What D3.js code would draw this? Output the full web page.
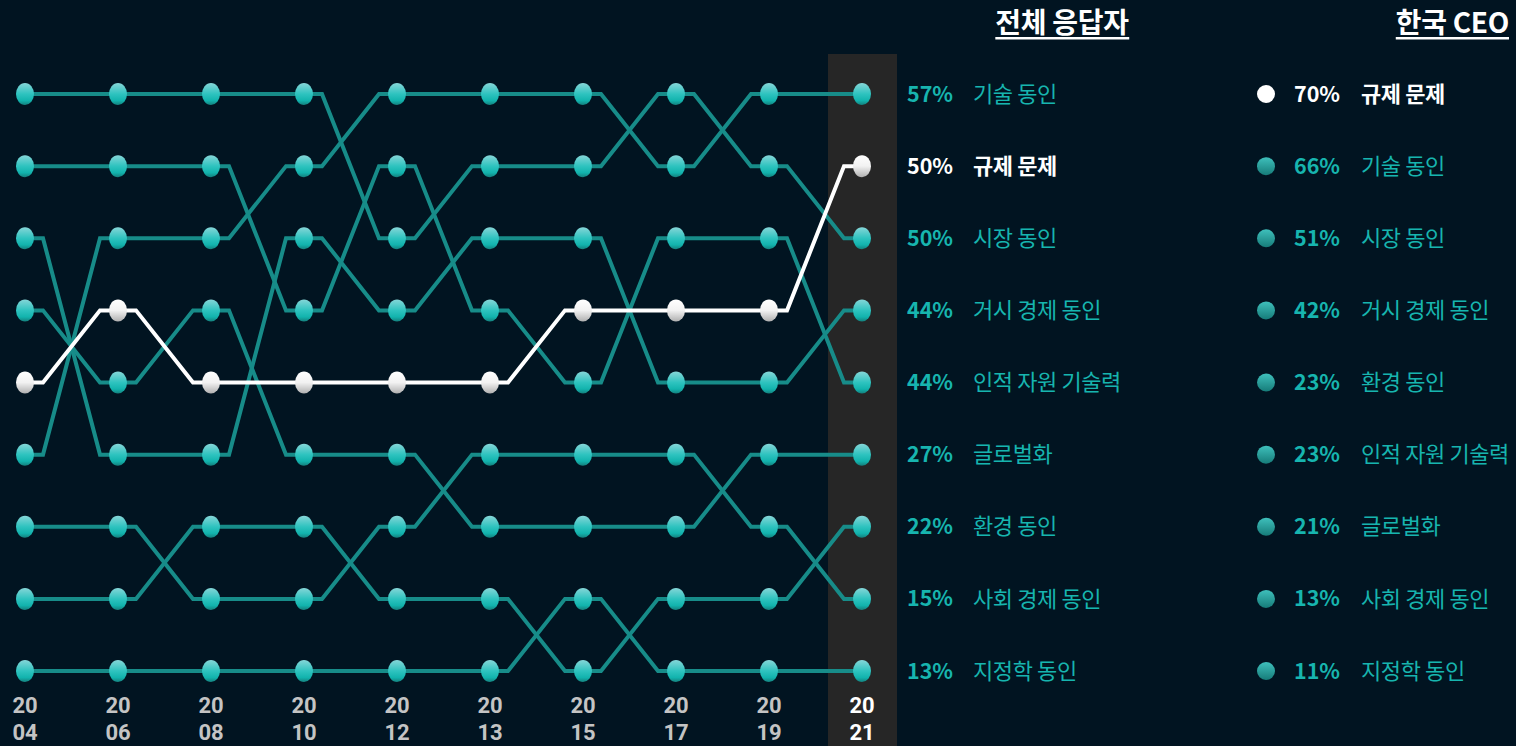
<!DOCTYPE html>
<html>
<head>
<meta charset="utf-8">
<script src="https://cdn.jsdelivr.net/npm/d3@7"></script>
<style>
body { margin:0; background:#011421; }
svg { display:block; font-family:"Noto Sans CJK KR","Noto Sans",sans-serif; }
</style>
</head>
<body>
<svg id="chart" width="1516" height="746"></svg>
<script>
// 연도
var years = ["2004","2006","2008","2010","2012","2013","2015","2017","2019","2021"];
// 항목 (2021년 순위 순)
var names = ["기술 동인","규제 문제","시장 동인","거시 경제 동인","인적 자원 기술력","글로벌화","환경 동인","사회 경제 동인","지정학 동인"];
// 연도별 순위
var rankTech   = [6,3,3,2,1,1,1,2,1,1];
var rankReg    = [5,4,5,5,5,5,4,4,4,2];
var rankMarket = [1,1,1,1,3,2,2,1,2,3];
var rankMacro  = [3,6,6,3,4,3,3,5,5,4];
var rankHuman  = [2,2,2,4,2,4,5,3,3,5];
var rankGlobal = [4,5,4,6,6,7,7,7,6,6];
var rankEnv    = [8,8,7,7,8,8,9,8,8,7];
var rankSocio  = [7,7,8,8,7,6,6,6,7,8];
var rankGeo    = [9,9,9,9,9,9,8,9,9,9];
// 2021 전체 응답자 %
var allPct = [57,50,50,44,44,27,22,15,13];
// 한국 CEO
var ceoNames = ["규제 문제","기술 동인","시장 동인","거시 경제 동인","환경 동인","인적 자원 기술력","글로벌화","사회 경제 동인","지정학 동인"];
var ceoPct = [70,66,51,42,23,23,21,13,11];
var highlight = "규제 문제";

var rankList = [rankTech,rankReg,rankMarket,rankMacro,rankHuman,rankGlobal,rankEnv,rankSocio,rankGeo];
var series = names.map(function(n,i){ return {name:n, ranks:rankList[i], pct:allPct[i]}; });

var svg = d3.select("#chart");
var teal = "#178c89", tealText = "#17b5af";

var x = d3.scalePoint().domain(years).range([25, 862]);
var y = d3.scaleLinear().domain([1, 9]).range([94, 671]);
var stub = 18;

// 그라데이션
var defs = svg.append("defs");
function grad(id, stops){
    var g = defs.append("linearGradient").attr("id", id)
        .attr("x1",0).attr("y1",0).attr("x2",0).attr("y2",1);
    stops.forEach(function(s){
        g.append("stop").attr("offset", s[0]).attr("stop-color", s[1]);
    });
}
grad("gTeal", [[0,"#86d6d8"],[0.5,"#2ec3bf"],[0.8,"#12b3ad"],[1,"#14807d"]]);
grad("gWhite", [[0,"#ffffff"],[0.5,"#f2f2f2"],[1,"#b0b0b0"]]);
grad("gCeo", [[0,"#3fc0bc"],[1,"#167c79"]]);

// 2021 강조 영역
svg.append("rect")
    .attr("x", x("2021") - 34).attr("y", 54)
    .attr("width", 69).attr("height", 746 - 54)
    .attr("fill", "#262626");

// 선
var line = d3.line();
function pathPoints(d){
    var pts = [];
    d.ranks.forEach(function(r,i){
        var px = x(years[i]), py = y(r);
        if (i > 0) pts.push([px - stub, py]);
        pts.push([px, py]);
        if (i < years.length - 1) pts.push([px + stub, py]);
    });
    return pts;
}
var ordered = series.filter(function(d){ return d.name != highlight; })
    .concat(series.filter(function(d){ return d.name == highlight; }));

svg.append("g").selectAll("path")
    .data(ordered)
    .enter().append("path")
    .attr("d", function(d){ return line(pathPoints(d)); })
    .attr("fill", "none")
    .attr("stroke", function(d){ return d.name == highlight ? "#ffffff" : teal; })
    .attr("stroke-width", 4)
    .attr("stroke-linejoin", "miter");

// 점
var dots = [];
ordered.forEach(function(d){
    d.ranks.forEach(function(r,i){
        dots.push({name:d.name, year:years[i], rank:r});
    });
});
svg.append("g").selectAll("ellipse")
    .data(dots)
    .enter().append("ellipse")
    .attr("cx", function(d){ return x(d.year); })
    .attr("cy", function(d){ return y(d.rank); })
    .attr("rx", 9).attr("ry", 11)
    .attr("fill", function(d){ return d.name == highlight ? "url(#gWhite)" : "url(#gTeal)"; });

// x축 라벨 (두 줄)
var xg = svg.append("g")
    .style("font-family", "Roboto, 'Noto Sans', sans-serif")
    .attr("font-size", 22)
    .attr("font-weight", 700)
    .attr("text-anchor", "middle");
[[0, 713], [2, 740]].forEach(function(p){
    xg.selectAll(null)
        .data(years)
        .enter().append("text")
        .attr("x", function(d){ return x(d); })
        .attr("y", p[1])
        .attr("fill", function(d){ return d == "2021" ? "#ffffff" : "#c4c4c4"; })
        .text(function(d){ return d.slice(p[0], p[0] + 2); });
});

// 제목
function title(tx, anchor, label){
    var t = svg.append("text")
        .attr("x", tx).attr("y", 33)
        .attr("text-anchor", anchor)
        .attr("font-size", 28)
        .attr("font-weight", 700)
        .attr("fill", "#ffffff")
        .attr("letter-spacing", -0.3)
        .text(label);
    var b = t.node().getBBox();
    svg.append("rect").attr("x", b.x).attr("y", 37).attr("width", b.width).attr("height", 2.5).attr("fill", "#ffffff");
}
title(1062, "middle", "전체 응답자");
title(1509, "end", "한국 CEO");

// 전체 응답자 라벨
var lab = svg.append("g").selectAll("g")
    .data(series)
    .enter().append("g")
    .attr("transform", function(d){ return "translate(0," + y(d.ranks[d.ranks.length-1]) + ")"; });
lab.append("text")
    .attr("x", 907).attr("dy", "0.35em")
    .attr("font-size", 21.5).attr("font-weight", 700)
    .attr("fill", function(d){ return d.name == highlight ? "#ffffff" : tealText; })
    .text(function(d){ return d.pct + "%"; });
lab.append("text")
    .attr("x", 973).attr("dy", "0.35em")
    .attr("font-size", 22)
    .attr("font-weight", function(d){ return d.name == highlight ? 700 : 400; })
    .attr("letter-spacing", -0.4)
    .attr("fill", function(d){ return d.name == highlight ? "#ffffff" : tealText; })
    .text(function(d){ return d.name; });

// 한국 CEO 라벨
var ceo = svg.append("g").selectAll("g")
    .data(ceoNames)
    .enter().append("g")
    .attr("transform", function(d,i){ return "translate(0," + y(i+1) + ")"; });
ceo.append("circle")
    .attr("cx", 1266).attr("r", 9)
    .attr("fill", function(d){ return d == highlight ? "#ffffff" : "url(#gCeo)"; });
ceo.append("text")
    .attr("x", 1294).attr("dy", "0.35em")
    .attr("font-size", 21.5).attr("font-weight", 700)
    .attr("fill", function(d){ return d == highlight ? "#ffffff" : tealText; })
    .text(function(d,i){ return ceoPct[i] + "%"; });
ceo.append("text")
    .attr("x", 1361).attr("dy", "0.35em")
    .attr("font-size", 22)
    .attr("font-weight", function(d){ return d == highlight ? 700 : 400; })
    .attr("letter-spacing", -0.4)
    .attr("fill", function(d){ return d == highlight ? "#ffffff" : tealText; })
    .text(function(d){ return d; });
</script>
</body>
</html>
